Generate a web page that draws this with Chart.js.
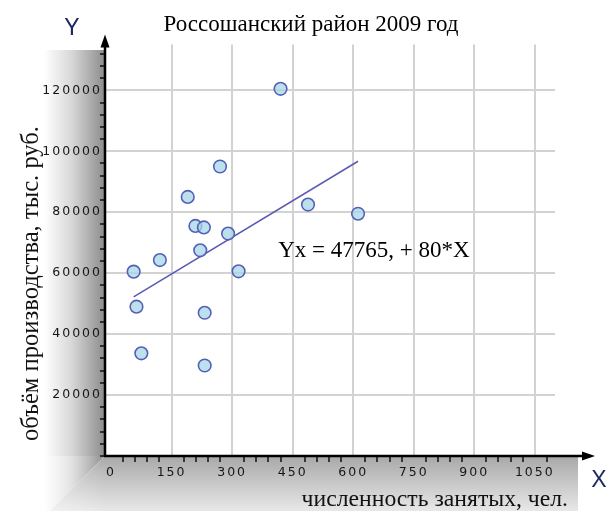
<!DOCTYPE html>
<html>
<head>
<meta charset="utf-8">
<script src="https://cdn.jsdelivr.net/npm/chart.js@4/dist/chart.umd.min.js"></script>
<style>
  html, body { margin: 0; padding: 0; background: #ffffff; }
  canvas { display: block; }
</style>
</head>
<body>
<canvas id="chart" width="614" height="511"></canvas>
<script>
// Employment (people) vs. output (thousand rubles), one point per enterprise
const employees = [420, 270, 190, 488, 612, 209, 230, 290, 221, 56, 121, 316, 63, 232, 75, 232];
const output = [120500, 95000, 85000, 82500, 79500, 75500, 75000, 73000, 67500, 60500, 64300, 60600, 49000, 47000, 33700, 29700];

// Fitted line Yx = a + b*X
const intercept = 47765;
const slope = 80;

// Labelled ticks and minor tick steps
const xMajorTicks = [0, 150, 300, 450, 600, 750, 900, 1050];
const yMajorTicks = [20000, 40000, 60000, 80000, 100000, 120000];
const xMinorStep = 30;
const yMinorStep = 4000;

// Texts
const titleText = 'Россошанский район 2009 год';
const xAxisTitle = 'численность занятых, чел.';
const yAxisTitle = 'объём производства, тыс. руб.';
const equationText = 'Yx = 47765, + 80*X';

const xTickValues = [];
for (let v = 0; v <= 1080; v += xMinorStep) xTickValues.push(v);
const yTickValues = [];
for (let v = 0; v <= 132000; v += yMinorStep) yTickValues.push(v);

const points = employees.map((x, i) => ({ x: x, y: output[i] }));
const xFrom = Math.min(...employees);
const xTo = Math.max(...employees);
const fitLine = [
  { x: xFrom, y: intercept + slope * xFrom },
  { x: xTo, y: intercept + slope * xTo }
];

const SERIF = '"Liberation Serif", "Times New Roman", serif';
const SANS = '"Liberation Sans", Arial, sans-serif';
const TICK_FONT = { family: '"DejaVu Sans", Verdana, sans-serif', size: 12.5 };

// Wider letter spacing for the axis tick labels
const tickSpacing = {
  id: 'tickSpacing',
  beforeDraw(chart) {
    Object.values(chart.scales).forEach(scale => {
      if (scale.__spaced) return;
      const draw = scale.drawLabels.bind(scale);
      scale.drawLabels = function (area) {
        const c = scale.ctx;
        c.save();
        c.letterSpacing = '2px';
        draw(area);
        c.restore();
      };
      scale.__spaced = true;
    });
  }
};

// Shaded margins, arrowed axes and free-standing texts
const frame = {
  id: 'frame',
  beforeDraw(chart) {
    const ctx = chart.ctx;
    const a = chart.chartArea;
    const W = chart.width, H = chart.height;
    ctx.save();
    ctx.fillStyle = '#ffffff';
    ctx.fillRect(0, 0, W, H);

    const cornerX = a.left - (H - a.bottom);

    // left shade
    let g = ctx.createLinearGradient(44, 0, a.left, 0);
    g.addColorStop(0, 'rgba(255,255,255,1)');
    g.addColorStop(0.45, '#d8d8d8');
    g.addColorStop(1, '#8c8c8c');
    ctx.fillStyle = g;
    ctx.beginPath();
    ctx.moveTo(0, 50);
    ctx.lineTo(a.left, 50);
    ctx.lineTo(a.left, a.bottom);
    ctx.lineTo(cornerX, H);
    ctx.lineTo(0, H);
    ctx.closePath();
    ctx.fill();

    // bottom shade
    g = ctx.createLinearGradient(0, a.bottom, 0, H);
    g.addColorStop(0, '#a8a8a8');
    g.addColorStop(1, '#e8e8e8');
    ctx.fillStyle = g;
    ctx.beginPath();
    ctx.moveTo(a.left, a.bottom);
    ctx.lineTo(578, a.bottom);
    ctx.lineTo(578, H);
    ctx.lineTo(cornerX, H);
    ctx.closePath();
    ctx.fill();

    // soften the mitred corner
    g = ctx.createLinearGradient(a.left, 0, cornerX - 10, 0);
    g.addColorStop(0, 'rgba(255,255,255,0)');
    g.addColorStop(1, 'rgba(255,255,255,0.5)');
    ctx.fillStyle = g;
    ctx.fillRect(cornerX - 10, a.bottom, a.left - cornerX + 10, H - a.bottom);
    ctx.restore();
  },
  afterDraw(chart) {
    const ctx = chart.ctx;
    const a = chart.chartArea;
    const xs = chart.scales.x, ys = chart.scales.y;
    ctx.save();

    // axes with arrow heads
    ctx.strokeStyle = '#000';
    ctx.fillStyle = '#000';
    ctx.lineWidth = 2.5;
    ctx.beginPath();
    ctx.moveTo(a.left, a.bottom + 1);
    ctx.lineTo(a.left, a.top - 4);
    ctx.moveTo(a.left - 1, a.bottom);
    ctx.lineTo(a.right + 30, a.bottom);
    ctx.stroke();
    ctx.beginPath();
    ctx.moveTo(a.left, a.top - 10);
    ctx.lineTo(a.left - 4.5, a.top + 3);
    ctx.lineTo(a.left + 4.5, a.top + 3);
    ctx.closePath();
    ctx.fill();
    ctx.beginPath();
    ctx.moveTo(a.right + 40, a.bottom);
    ctx.lineTo(a.right + 27, a.bottom - 4.5);
    ctx.lineTo(a.right + 27, a.bottom + 4.5);
    ctx.closePath();
    ctx.fill();

    // axis letters
    ctx.fillStyle = '#1c2860';
    ctx.font = '23px ' + SANS;
    ctx.textAlign = 'center';
    ctx.textBaseline = 'alphabetic';
    ctx.fillText('Y', 72, 35);
    ctx.fillText('X', 599, 487);

    // axis titles
    ctx.fillStyle = '#111';
    ctx.font = '23.7px ' + SERIF;
    ctx.textAlign = 'right';
    ctx.fillText(xAxisTitle, 568, 506);
    ctx.save();
    ctx.font = '24.6px ' + SERIF;
    ctx.translate(38, 283.5);
    ctx.rotate(-Math.PI / 2);
    ctx.textAlign = 'center';
    ctx.fillText(yAxisTitle, 0, 0);
    ctx.restore();

    // equation of the fitted line
    ctx.font = '23px ' + SERIF;
    ctx.textAlign = 'left';
    ctx.fillStyle = '#000';
    ctx.fillText(equationText, xs.getPixelForValue(414), ys.getPixelForValue(65300));
    ctx.restore();
  }
};

new Chart(document.getElementById('chart'), {
  type: 'scatter',
  data: {
    datasets: [
      {
        data: points,
        pointRadius: 6.3,
        pointBackgroundColor: 'rgba(166, 214, 232, 0.75)',
        pointBorderColor: '#5560b4',
        pointBorderWidth: 1.6,
        order: 0
      },
      {
        data: fitLine,
        showLine: true,
        pointRadius: 0,
        borderColor: '#5a5ab4',
        borderWidth: 1.5,
        order: 1
      }
    ]
  },
  options: {
    responsive: false,
    devicePixelRatio: 1,
    animation: false,
    events: [],
    layout: { padding: { left: 8, right: 0, top: 0, bottom: 0 } },
    plugins: {
      legend: { display: false },
      tooltip: { enabled: false },
      title: {
        display: true,
        text: titleText,
        color: '#000',
        font: { family: SERIF, size: 23, weight: 'normal', lineHeight: 1.2 },
        padding: { top: 11, bottom: 6 }
      }
    },
    scales: {
      x: {
        type: 'linear',
        min: -15,
        max: 1100,
        afterBuildTicks(s) { s.ticks = xTickValues.map(v => ({ value: v })); },
        afterFit(s) { s.height = 55; },
        border: { display: false },
        grid: {
          color: c => (c.tick && c.tick.value !== 0 && xMajorTicks.includes(c.tick.value)) ? '#d2d2d2' : 'rgba(0,0,0,0)',
          lineWidth: 2,
          tickColor: c => (c.tick && xMajorTicks.includes(c.tick.value)) ? 'rgba(0,0,0,0)' : '#111',
          tickWidth: 1.5,
          tickLength: 6
        },
        ticks: {
          autoSkip: false,
          maxRotation: 0,
          minRotation: 0,
          padding: 3,
          color: '#161616',
          font: TICK_FONT,
          callback: v => xMajorTicks.includes(v) ? String(v) : ''
        }
      },
      y: {
        type: 'linear',
        min: 0,
        max: 135000,
        afterBuildTicks(s) { s.ticks = yTickValues.map(v => ({ value: v })); },
        afterFit(s) { s.width = 97; },
        border: { display: false },
        grid: {
          color: c => (c.tick && yMajorTicks.includes(c.tick.value)) ? '#d2d2d2' : 'rgba(0,0,0,0)',
          lineWidth: 2,
          tickColor: c => (c.tick && yMajorTicks.includes(c.tick.value)) ? 'rgba(0,0,0,0)' : '#111',
          tickWidth: 1.5,
          tickLength: 5
        },
        ticks: {
          autoSkip: false,
          padding: -2,
          color: '#161616',
          font: TICK_FONT,
          callback: v => yMajorTicks.includes(v) ? String(v) : ''
        }
      },
      // empty right-hand strip that keeps the plot clear of the arrow and the "X"
      margin: {
        type: 'linear',
        position: 'right',
        afterFit(s) { s.width = 59; },
        border: { display: false },
        grid: { display: false },
        ticks: { display: false }
      }
    }
  },
  plugins: [tickSpacing, frame]
});
</script>
</body>
</html>
